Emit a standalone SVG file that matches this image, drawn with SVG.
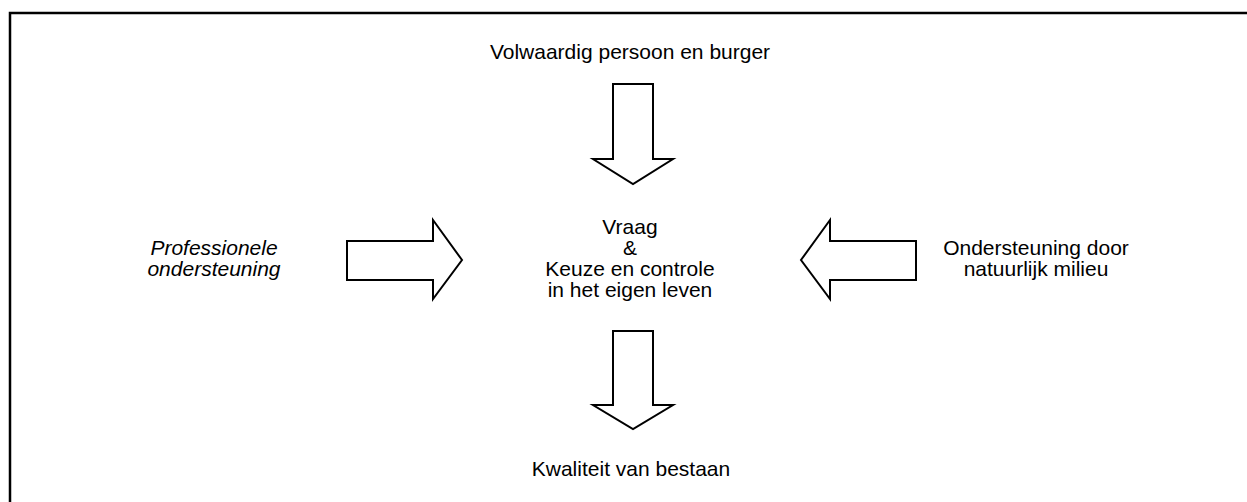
<svg xmlns="http://www.w3.org/2000/svg" width="1247" height="502" viewBox="0 0 1247 502">
<style>
.arrow{fill:#fff;stroke:#000;stroke-width:2;stroke-linejoin:miter}
text{font-family:"Liberation Sans",Arial,sans-serif;font-size:21px;fill:#000;text-anchor:middle}
.it{font-style:italic}
</style>
<rect x="0" y="0" width="1247" height="502" fill="#fff"/>
<path d="M10,520 V13 H1260" fill="none" stroke="#000" stroke-width="2.5"/>
<g id="top-label"><text x="630" y="59">Volwaardig persoon en burger</text></g>
<g id="center"><text x="630" y="234">Vraag</text><text x="630" y="255">&amp;</text><text x="630" y="276">Keuze en controle</text><text x="630" y="297">in het eigen leven</text></g>
<g id="left-label"><text class="it" x="214" y="255">Professionele</text><text class="it" x="214" y="276">ondersteuning</text></g>
<g id="right-label"><text x="1036" y="255">Ondersteuning door</text><text x="1036" y="276">natuurlijk milieu</text></g>
<g id="bottom-label"><text x="631" y="476">Kwaliteit van bestaan</text></g>
<g id="connectors">
<polygon class="arrow" points="613,84 653,84 653,159 673,159 633,184 593,159 613,159"/>
<polygon class="arrow" points="613,331 653,331 653,405 673,405 633,429 593,405 613,405"/>
<polygon class="arrow" points="347,241 433,241 433,220 462,260 433,299 433,280 347,280"/>
<polygon class="arrow" points="916,241 830,241 830,220 801,260 830,299 830,280 916,280"/>
</g>
</svg>
